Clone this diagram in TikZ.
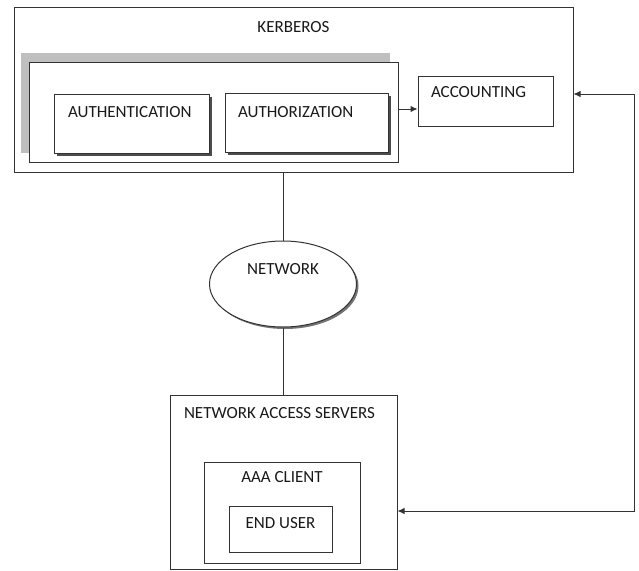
\documentclass[tikz,border=0pt]{standalone}
\usepackage{fontspec}
\setmainfont{Carlito}
\usetikzlibrary{arrows.meta,positioning,shadows,shapes.geometric}

\begin{document}
\begin{tikzpicture}[x=1pt,y=-1pt,>={Latex[length=7pt,width=6.5pt]},line width=1pt,
    box/.style={draw=black!80,fill=white,rectangle,inner sep=0pt},
    shbox/.style={box,drop shadow={shadow xshift=2.5pt,shadow yshift=-2.5pt,fill=black!70,opacity=1}},
    txt/.style={font=\fontsize{17}{20}\selectfont,text=black!90,inner sep=0pt}]
    \useasboundingbox (0,0) rectangle (639,570);

    % kerberos server
    \node[box,minimum width=559pt,minimum height=165pt] (kerb) at (293.5,89.5) {};
    \node[txt,below=14pt of kerb.north] (kerbt) {KERBEROS};

    \node[box,minimum width=369pt,minimum height=100pt,
          general shadow={fill=black!25,shadow xshift=-8pt,shadow yshift=9pt}] (grp) at (213.5,112) {};

    \node[shbox,minimum width=155pt,minimum height=59pt] (authn) at (131.5,123.5) {};
    \node[txt,below right=12pt and 14pt of authn.north west] (authnt) {AUTHENTICATION};

    \node[shbox,minimum width=163pt,minimum height=59pt] (authz) at (306.5,122.5) {};
    \node[txt,below right=13pt and 13pt of authz.north west] (authzt) {AUTHORIZATION};

    \node[box,minimum width=135pt,minimum height=50pt] (acct) at (485.5,101) {};
    \node[txt,below right=10pt and 13pt of acct.north west] (acctt) {ACCOUNTING};

    % network
    \node[ellipse,draw=black!80,fill=white,minimum width=147pt,minimum height=86pt,inner sep=0pt,
          drop shadow={shadow xshift=2pt,shadow yshift=-2pt,fill=black!55,opacity=1}] (net) at (283,284) {};
    \node[txt,below=22pt of net.north] (nett) {NETWORK};

    % access side
    \node[box,minimum width=227pt,minimum height=174pt] (nas) at (283.5,482) {};
    \node[txt,below right=12pt and 14pt of nas.north west] (nast) {NETWORK ACCESS SERVERS};

    \node[box,minimum width=156pt,minimum height=101pt] (aaa) at (282,512.5) {};
    \node[txt,below=9pt of aaa.north] (aaat) {AAA CLIENT};

    \node[box,minimum width=103pt,minimum height=46pt] (endu) at (280.5,529) {};
    \node[txt,below=11pt of endu.north] (endut) {END USER};

    \coordinate (rt) at (634,94);
    \coordinate (rb) at (634,511);

    \draw[black!80] (net.north) -- (net.north |- kerb.south);
    \draw[black!80] (net.south) -- (net.south |- nas.north);
    \draw[black!80,->] ([yshift=3pt]grp.east) -- ([yshift=3pt]grp.east -| acct.west);
    \draw[black!80,<->] (rt -| kerb.east) -- (rt) -- (rb) -- (rb -| nas.east);

\end{tikzpicture}
\end{document}
